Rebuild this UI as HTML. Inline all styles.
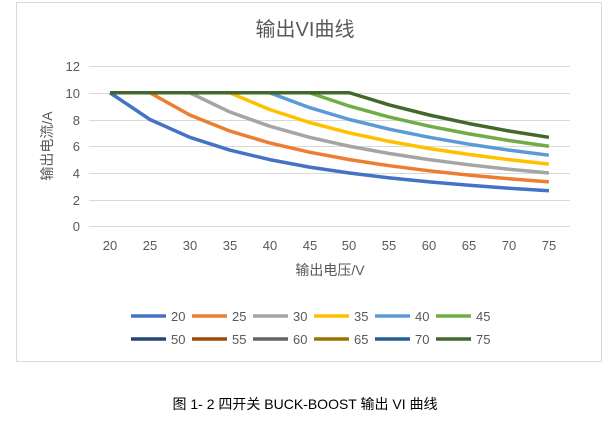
<!DOCTYPE html><html><head><meta charset="utf-8"><style>
body{margin:0;background:#fff;width:611px;height:429px;overflow:hidden}
svg{font-family:"Liberation Sans","Noto Sans CJK SC",sans-serif}
</style></head><body>
<svg width="611" height="429" xmlns="http://www.w3.org/2000/svg">
<rect x="16.5" y="2.5" width="585" height="359" fill="#fff" stroke="#d9d9d9"/>
<text x="305" y="36" font-size="20" text-anchor="middle" fill="#595959">输出VI曲线</text>
<g stroke="#d9d9d9" stroke-width="1">
<line x1="89" x2="570" y1="66.5" y2="66.5"/><line x1="89" x2="570" y1="93.5" y2="93.5"/>
<line x1="89" x2="570" y1="120.5" y2="120.5"/><line x1="89" x2="570" y1="146.5" y2="146.5"/>
<line x1="89" x2="570" y1="173.5" y2="173.5"/><line x1="89" x2="570" y1="200.5" y2="200.5"/>
<line x1="89" x2="570" y1="226.5" y2="226.5"/></g>
<g font-size="13" fill="#595959" text-anchor="end">
<text x="80" y="71">12</text><text x="80" y="98">10</text><text x="80" y="125">8</text><text x="80" y="151">6</text><text x="80" y="178">4</text><text x="80" y="205">2</text><text x="80" y="231">0</text></g>
<g font-size="13" fill="#595959" text-anchor="middle">
<text x="110" y="250">20</text><text x="150" y="250">25</text><text x="190" y="250">30</text><text x="230" y="250">35</text><text x="270" y="250">40</text><text x="310" y="250">45</text><text x="349" y="250">50</text><text x="389" y="250">55</text><text x="429" y="250">60</text><text x="469" y="250">65</text><text x="509" y="250">70</text><text x="549" y="250">75</text></g>
<text x="330" y="275" font-size="14" text-anchor="middle" fill="#595959">输出电压/V</text>
<text transform="translate(52,146) rotate(-90)" font-size="14" text-anchor="middle" fill="#595959">输出电流/A</text>
<g fill="none" stroke-width="3.5" stroke-linejoin="round">
<polyline stroke="#4472C4" points="110,92.75 149.9,119.5 189.8,137.3 229.7,150.1 269.6,159.6 309.5,167.1 349.4,173 389.3,177.9 429.2,181.9 469.1,185.3 509,188.3 548.9,190.8"/>
<polyline stroke="#ED7D31" points="110,92.75 149.9,92.75 189.8,115 229.7,131 269.6,142.9 309.5,152.2 349.4,159.6 389.3,165.7 429.2,170.8 469.1,175.1 509,178.7 548.9,181.9"/>
<polyline stroke="#A5A5A5" points="110,92.75 189.8,92.75 229.7,111.9 269.6,126.2 309.5,137.3 349.4,146.25 389.3,153.5 429.2,159.6 469.1,164.8 509,169.2 548.9,173"/>
<polyline stroke="#FFC000" points="110,92.75 229.7,92.75 269.6,109.5 309.5,122.5 349.4,132.9 389.3,141.4 429.2,148.5 469.1,154.5 509,159.6 548.9,164.1"/>
<polyline stroke="#5B9BD5" points="110,92.75 269.6,92.75 309.5,107.6 349.4,119.5 389.3,129.2 429.2,137.3 469.1,144.2 509,150.1 548.9,155.2"/>
<polyline stroke="#70AD47" points="110,92.75 309.5,92.75 349.4,106.1 389.3,117.1 429.2,126.2 469.1,133.9 509,140.5 548.9,146.25"/>
<polyline stroke="#43682B" points="110,92.75 349.4,92.75 389.3,104.9 429.2,115 469.1,123.6 509,131 548.9,137.3"/>
</g>
<g font-size="13" fill="#595959" stroke-width="3.5">
<line x1="131" x2="166" y1="316" y2="316" stroke="#4472C4"/><text x="171" y="321">20</text>
<line x1="192" x2="227" y1="316" y2="316" stroke="#ED7D31"/><text x="232" y="321">25</text>
<line x1="253" x2="288" y1="316" y2="316" stroke="#A5A5A5"/><text x="293" y="321">30</text>
<line x1="314" x2="349" y1="316" y2="316" stroke="#FFC000"/><text x="354" y="321">35</text>
<line x1="375" x2="410" y1="316" y2="316" stroke="#5B9BD5"/><text x="415" y="321">40</text>
<line x1="436" x2="471" y1="316" y2="316" stroke="#70AD47"/><text x="476" y="321">45</text>
<line x1="131" x2="166" y1="339" y2="339" stroke="#264478"/><text x="171" y="344">50</text>
<line x1="192" x2="227" y1="339" y2="339" stroke="#9E480E"/><text x="232" y="344">55</text>
<line x1="253" x2="288" y1="339" y2="339" stroke="#636363"/><text x="293" y="344">60</text>
<line x1="314" x2="349" y1="339" y2="339" stroke="#997300"/><text x="354" y="344">65</text>
<line x1="375" x2="410" y1="339" y2="339" stroke="#255E91"/><text x="415" y="344">70</text>
<line x1="436" x2="471" y1="339" y2="339" stroke="#43682B"/><text x="476" y="344">75</text>
</g>
<text x="305" y="409" font-size="14" text-anchor="middle" fill="#000">图 1- 2  四开关 BUCK-BOOST 输出 VI 曲线</text>
</svg></body></html>
